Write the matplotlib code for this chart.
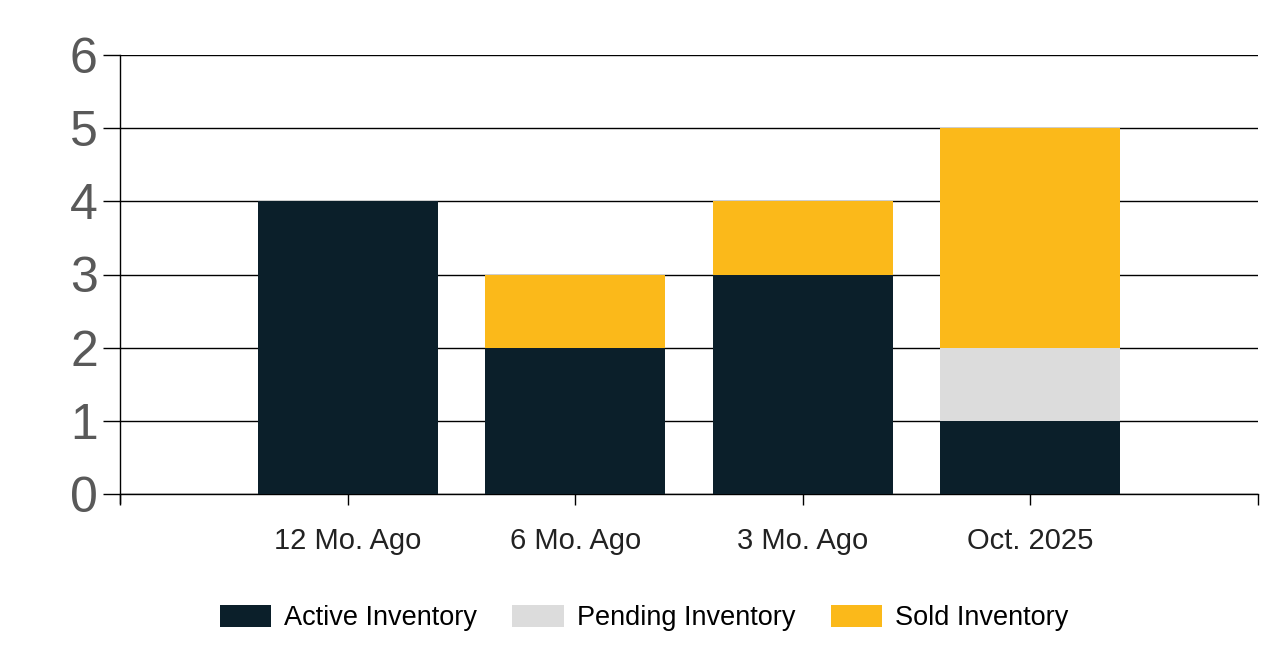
import numpy as np
import matplotlib.pyplot as plt

plt.rcParams['font.family'] = ['Liberation Sans', 'DejaVu Sans']

categories = ["12 Mo. Ago", "6 Mo. Ago", "3 Mo. Ago", "Oct. 2025"]
active = [4, 2, 3, 1]
pending = [0, 0, 0, 1]
sold = [0, 1, 1, 3]

fig = plt.figure(figsize=(12.61, 6.63), dpi=100)
ax = fig.add_axes([120/1261, 1-494/663, (1258-120)/1261, (494-55)/663])

x = np.arange(1, len(categories)+1)
w = 0.79
active_a = np.array(active)
pending_a = np.array(pending)
sold_a = np.array(sold)
ax.bar(x, active_a, w, color='#0b1f2a', label='Active Inventory', zorder=3)
ax.bar(x, pending_a, w, bottom=active_a, color='#dcdcdc', label='Pending Inventory', zorder=3)
ax.bar(x, sold_a, w, bottom=active_a+pending_a, color='#fbb91a', label='Sold Inventory', zorder=3)

ax.set_xlim(0, 5)
ax.set_ylim(0, 6)
ax.set_yticks(range(0, 7))
ax.yaxis.grid(True, color='black', linewidth=1, zorder=0)
ax.set_xticks(range(0, 6))
ax.set_xticklabels([''] + categories + [''])
ax.tick_params(axis='x', length=8, width=1, labelsize=21, pad=16, colors='black')
ax.tick_params(axis='x', labelcolor='#222222')
ax.tick_params(axis='y', length=12, width=1, labelsize=36, pad=4, labelcolor='#595959')
for s in ['top', 'right']:
    ax.spines[s].set_visible(False)
ax.spines['left'].set_bounds(-0.12, 6)
ax.spines['left'].set_linewidth(1)
ax.spines['bottom'].set_linewidth(1)

fig.legend(loc='center', bbox_to_anchor=(644/1261, 1-618/663), ncol=3, frameon=False,
           fontsize=19.5, handlelength=1.9, handleheight=0.85, columnspacing=1.3, handletextpad=0.48)

fig.savefig('out.png', dpi=100)
